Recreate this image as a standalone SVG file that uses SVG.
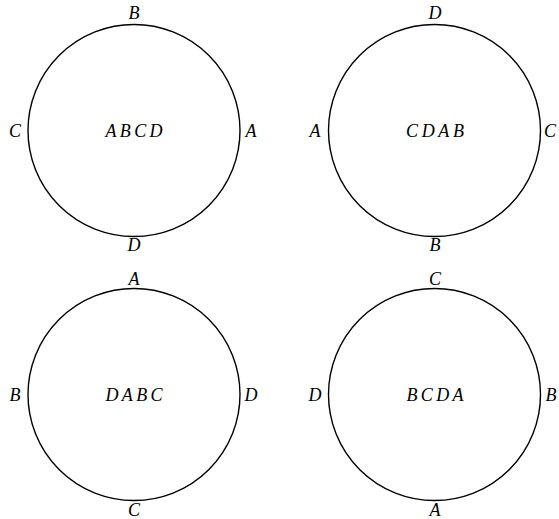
<svg xmlns="http://www.w3.org/2000/svg" width="559" height="519" viewBox="0 0 559 519">
<style>
.c{fill:none;stroke:#000;stroke-width:1.4}
.t{font-family:"Liberation Serif","Times New Roman",serif;font-style:italic;font-size:18px;fill:#000;text-anchor:middle}
</style>
<rect width="559" height="519" fill="#fff"/>
<g id="n1">
<circle class="c" cx="134" cy="130.5" r="106"/>
<text class="t" x="134" y="19">B</text>
<text class="t" x="15" y="137">C</text>
<text class="t" x="251" y="137">A</text>
<text class="t" x="134" y="251">D</text>
<text class="t" x="134" y="137" textLength="57" lengthAdjust="spacing">ABCD</text>
</g>
<g id="n2">
<circle class="c" cx="434.5" cy="130.5" r="106"/>
<text class="t" x="435" y="19">D</text>
<text class="t" x="315" y="137">A</text>
<text class="t" x="550" y="137">C</text>
<text class="t" x="435" y="251">B</text>
<text class="t" x="435" y="137" textLength="58" lengthAdjust="spacing">CDAB</text>
</g>
<g id="n3">
<circle class="c" cx="134" cy="394.5" r="106"/>
<text class="t" x="134" y="285">A</text>
<text class="t" x="15" y="401">B</text>
<text class="t" x="251" y="401">D</text>
<text class="t" x="134" y="516">C</text>
<text class="t" x="134" y="401" textLength="57" lengthAdjust="spacing">DABC</text>
</g>
<g id="n4">
<circle class="c" cx="434.5" cy="394.5" r="106"/>
<text class="t" x="435" y="285">C</text>
<text class="t" x="315" y="401">D</text>
<text class="t" x="551" y="401">B</text>
<text class="t" x="435" y="516">A</text>
<text class="t" x="435" y="401" textLength="57" lengthAdjust="spacing">BCDA</text>
</g>
<g id="connectors"/>
</svg>
